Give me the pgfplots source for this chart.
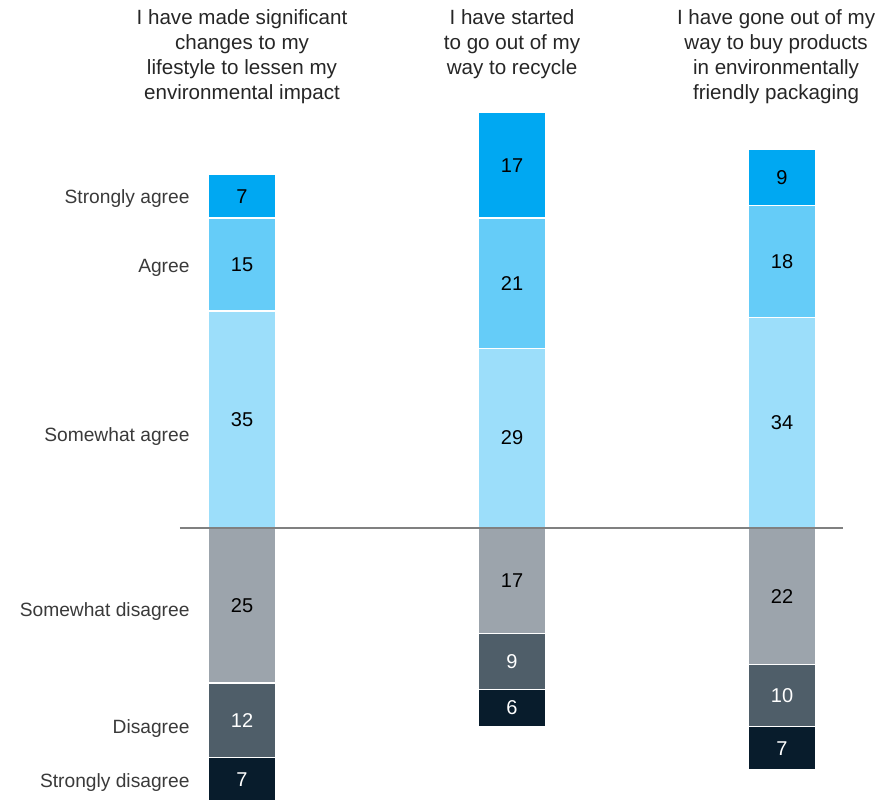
\documentclass[border=0pt]{standalone}
\usepackage{pgfplots}
\pgfplotsset{compat=1.18}
\usepackage{pgfplotstable}
\usepackage{fontspec}
\setmainfont{Liberation Sans}

\definecolor{stragree}{HTML}{00A8F2}
\definecolor{agree}{HTML}{65CCF8}
\definecolor{swagree}{HTML}{9CDEFA}
\definecolor{swdis}{HTML}{9CA4AC}
\definecolor{dis}{HTML}{4F5E69}
\definecolor{strdis}{HTML}{081C2C}
\definecolor{labgray}{HTML}{3A3A3A}

% positive (agree) side, stacked upwards from 0
\pgfplotstableread{
x swa a sa
0 35 15 7
1 29 21 17
2 34 18 9
}\postab
% negative (disagree) side, stacked downwards from 0
\pgfplotstableread{
x swd d sd
0 -25 -12 -7
1 -17 -9 -6
2 -22 -10 -7
}\negtab

\pgfplotsset{
  base/.style={
    width=447pt, height=400.5pt, scale only axis, hide axis,
    xmin=-0.8963, xmax=2.4148, ymin=-44.03, ymax=85.16,
  },
}
\tikzset{
  seg/.style={fill=#1, draw=white, line width=0.6pt},
  num/.style={font=\fontsize{10}{12}\selectfont, text=black},
  numw/.style={font=\fontsize{10}{12}\selectfont, text=white},
  lab/.style={font=\fontsize{9.6}{12}\selectfont, text=labgray, anchor=east, inner sep=0pt},
  head/.style={font=\fontsize{10.3}{12.5}\selectfont, text=black!85, align=center, anchor=north, inner sep=0pt},
}

\begin{document}
\begin{tikzpicture}
\begin{axis}[base, ybar stacked, bar width=33.5pt]
  \addplot[seg=swagree] table[x=x, y=swa] {\postab};
  \addplot[seg=agree] table[x=x, y=a] {\postab};
  \addplot[seg=stragree] table[x=x, y=sa] {\postab};
\end{axis}
\begin{axis}[base, ybar stacked, bar width=33.5pt]
  \addplot[seg=swdis] table[x=x, y=swd] {\negtab};
  \addplot[seg=dis] table[x=x, y=d] {\negtab};
  \addplot[seg=strdis] table[x=x, y=sd] {\negtab};
\end{axis}
% overlay for the baseline and all text
\begin{axis}[base]
  \draw[color=black!50, line width=0.8pt] (axis cs:-0.23,0) -- (axis cs:2.226,0);

  \node[num] at (axis cs:0,17.5) {35};
  \node[num] at (axis cs:0,42.5) {15};
  \node[num] at (axis cs:0,53.5) {7};
  \node[num] at (axis cs:1,14.5) {29};
  \node[num] at (axis cs:1,39.5) {21};
  \node[num] at (axis cs:1,58.5) {17};
  \node[num] at (axis cs:2,17) {34};
  \node[num] at (axis cs:2,43) {18};
  \node[num] at (axis cs:2,56.5) {9};

  \node[num] at (axis cs:0,-12.5) {25};
  \node[numw] at (axis cs:0,-31) {12};
  \node[numw] at (axis cs:0,-40.5) {7};
  \node[num] at (axis cs:1,-8.5) {17};
  \node[numw] at (axis cs:1,-21.5) {9};
  \node[numw] at (axis cs:1,-29) {6};
  \node[num] at (axis cs:2,-11) {22};
  \node[numw] at (axis cs:2,-27) {10};
  \node[numw] at (axis cs:2,-35.5) {7};

  \node[head] at (axis cs:0,83.6) {I have made significant\\changes to my\\lifestyle to lessen my\\environmental impact};
  \node[head] at (axis cs:1,83.6) {I have started\\to go out of my\\way to recycle};
  \node[head] at (axis cs:1.978,83.6) {I have gone out of my\\way to buy products\\in environmentally\\friendly packaging};

  \node[lab] at (axis cs:-0.193,53.2) {Strongly agree};
  \node[lab] at (axis cs:-0.193,41.9) {Agree};
  \node[lab] at (axis cs:-0.193,14.8) {Somewhat agree};
  \node[lab] at (axis cs:-0.193,-13.5) {Somewhat disagree};
  \node[lab] at (axis cs:-0.193,-32.3) {Disagree};
  \node[lab] at (axis cs:-0.193,-41.1) {Strongly disagree};
\end{axis}
\pgfresetboundingbox
\path (current axis.south west) rectangle (current axis.north east);
\end{tikzpicture}
\end{document}
